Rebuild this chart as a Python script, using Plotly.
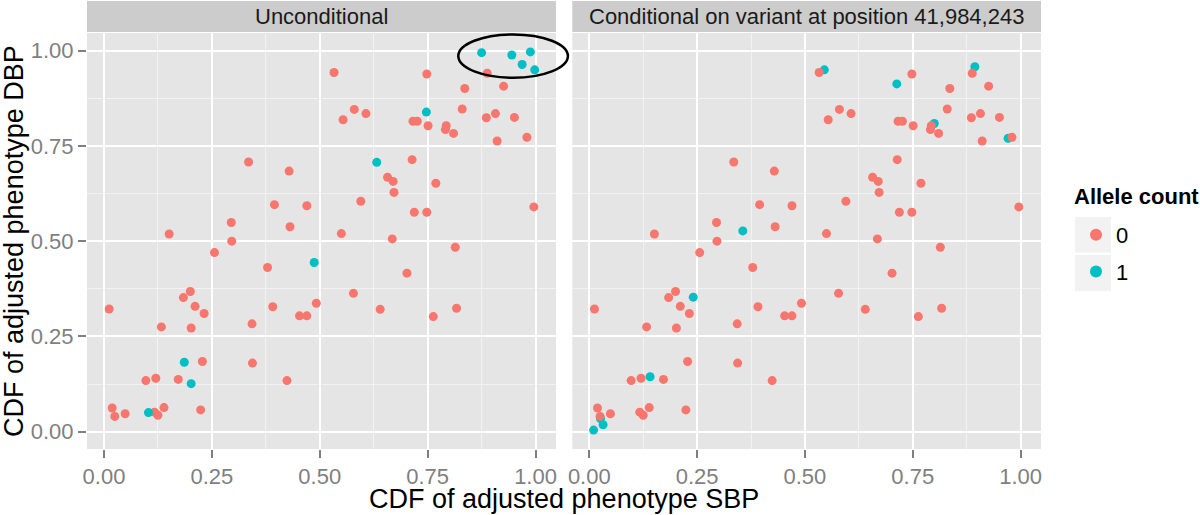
import plotly.graph_objects as go

# ---- data ----
red_x = [0.335, 0.429, 0.395, 0.470, 0.295, 0.431, 0.151, 0.296, 0.256, 0.888,
         0.533, 0.748, 0.926, 0.836, 0.580, 0.607, 0.554, 0.830, 0.907, 0.886,
         0.951, 0.716, 0.726, 0.751, 0.793, 0.791, 0.810, 0.911, 0.980, 0.714,
         0.657, 0.670, 0.769, 0.672, 0.595, 0.719, 0.748, 0.996, 0.550, 0.668,
         0.814, 0.379, 0.492, 0.012, 0.184, 0.200, 0.211, 0.232, 0.391, 0.453,
         0.470, 0.133, 0.202, 0.343, 0.228, 0.344, 0.097, 0.120, 0.172, 0.424,
         0.019, 0.025, 0.049, 0.117, 0.125, 0.139, 0.224, 0.702, 0.578, 0.640,
         0.763, 0.817]
red_y = [0.708, 0.684, 0.596, 0.593, 0.549, 0.538, 0.519, 0.500, 0.470, 0.941,
         0.943, 0.939, 0.907, 0.901, 0.846, 0.835, 0.819, 0.847, 0.835, 0.824,
         0.825, 0.815, 0.815, 0.803, 0.803, 0.793, 0.783, 0.763, 0.773, 0.714,
         0.668, 0.657, 0.652, 0.628, 0.605, 0.576, 0.576, 0.590, 0.520, 0.506,
         0.484, 0.431, 0.337, 0.322, 0.352, 0.368, 0.329, 0.310, 0.328, 0.304,
         0.304, 0.275, 0.272, 0.283, 0.184, 0.180, 0.134, 0.140, 0.137, 0.134,
         0.062, 0.040, 0.047, 0.051, 0.043, 0.063, 0.057, 0.416, 0.363, 0.321,
         0.302, 0.324]

teal_uncond_x = [0.875, 0.945, 0.988, 0.969, 0.998, 0.747, 0.632, 0.487, 0.186, 0.202, 0.103]
teal_uncond_y = [0.995, 0.989, 0.997, 0.964, 0.950, 0.839, 0.707, 0.444, 0.182, 0.126, 0.050]

teal_cond_x = [0.545, 0.713, 0.894, 0.800, 0.971, 0.356, 0.241, 0.141, 0.026, 0.032, 0.010]
teal_cond_y = [0.950, 0.913, 0.958, 0.809, 0.770, 0.527, 0.353, 0.144, 0.034, 0.018, 0.004]

panel_titles = ["Unconditional", "Conditional on variant at position 41,984,243"]
legend_labels = ["0", "1"]
tick_vals = [0.0, 0.25, 0.5, 0.75, 1.0]
minor_vals = [0.125, 0.375, 0.625, 0.875]
x_title = "CDF of adjusted phenotype SBP"
y_title = "CDF of adjusted phenotype DBP"
legend_title = "Allele count"

# highlight ellipse (annotation, data units): centre and half axes
ell_cx, ell_cy, ell_rx, ell_ry = 0.948, 0.986, 0.127, 0.057

RED = "#F8766D"
TEAL = "#00BFC4"
FONT = "Liberation Sans, Arial, Helvetica, sans-serif"

# ---- ranges like ggplot (5% expansion) ----
all_x = red_x + teal_uncond_x + teal_cond_x
all_y = red_y + teal_uncond_y + teal_cond_y
sx = max(all_x) - min(all_x)
sy = max(all_y) - min(all_y)
xr = [min(all_x) - 0.05 * sx, max(all_x) + 0.05 * sx]
yr = [min(all_y) - 0.05 * sy, max(all_y) + 0.05 * sy]

W, H = 1200, 515
ML, MR, MT, MB = 87, 159, 33, 66
PW = W - ML - MR
PH = H - MT - MB
d1_end = (556 - ML) / PW
d2_start = (572.3 - ML) / PW

def px_x(px):
    return (px - ML) / PW

def px_y(py):
    return (H - MB - py) / PH

fig = go.Figure()
msize = 9
fig.add_trace(go.Scatter(x=red_x, y=red_y, mode="markers", name=legend_labels[0],
                         marker=dict(color=RED, size=msize), xaxis="x", yaxis="y",
                         legendgroup="0", showlegend=True))
fig.add_trace(go.Scatter(x=teal_uncond_x, y=teal_uncond_y, mode="markers", name=legend_labels[1],
                         marker=dict(color=TEAL, size=msize), xaxis="x", yaxis="y",
                         legendgroup="1", showlegend=True))
fig.add_trace(go.Scatter(x=teal_cond_x, y=teal_cond_y, mode="markers", name=legend_labels[1],
                         marker=dict(color=TEAL, size=msize), xaxis="x2", yaxis="y2",
                         legendgroup="1", showlegend=False))
fig.add_trace(go.Scatter(x=red_x, y=red_y, mode="markers", name=legend_labels[0],
                         marker=dict(color=RED, size=msize), xaxis="x2", yaxis="y2",
                         legendgroup="0", showlegend=False))

axis_common = dict(
    tickvals=tick_vals, tickformat=".2f", showgrid=True, automargin=False,
    gridcolor="white", gridwidth=2, zeroline=False, showline=False,
    ticks="outside", ticklen=8, tickwidth=2, tickcolor="#7F7F7F",
    tickfont=dict(family=FONT, size=22, color="#7F7F7F"),
    minor=dict(tickvals=minor_vals, showgrid=True, gridcolor="#F2F2F2",
               gridwidth=1.2, ticks=""),
)

xa = dict(axis_common); xa.update(range=xr, domain=[0, d1_end], anchor="y")
xa2 = dict(axis_common); xa2.update(range=xr, domain=[d2_start, 1], anchor="y2")
ya = dict(axis_common); ya.update(range=yr, domain=[0, 1], anchor="x")
ya2 = dict(axis_common); ya2.update(range=yr, domain=[0, 1], anchor="x2",
                                    showticklabels=False, ticks="", matches="y")

shapes = []
annotations = []

# facet strips
for (x0, x1), title in zip([(0, d1_end), (d2_start, 1)], panel_titles):
    shapes.append(dict(type="rect", xref="paper", yref="paper",
                       x0=x0, x1=x1, y0=px_y(32), y1=px_y(1),
                       fillcolor="#CCCCCC", line=dict(width=0), layer="below"))
    annotations.append(dict(text=title, xref="paper", yref="paper",
                            x=(x0 + x1) / 2, y=(px_y(32) + px_y(1)) / 2,
                            xanchor="center", yanchor="middle", showarrow=False,
                            font=dict(family=FONT, size=22, color="#1A1A1A")))

# ellipse (converted to paper so it is not clipped at panel edge)
def dx_to_paper(v):
    return (v - xr[0]) / (xr[1] - xr[0]) * d1_end

def dy_to_paper(v):
    return (v - yr[0]) / (yr[1] - yr[0])

shapes.append(dict(type="circle", xref="paper", yref="paper",
                   x0=dx_to_paper(ell_cx - ell_rx), x1=dx_to_paper(ell_cx + ell_rx),
                   y0=dy_to_paper(ell_cy - ell_ry), y1=dy_to_paper(ell_cy + ell_ry),
                   line=dict(color="black", width=2.5), layer="above"))

# legend key backgrounds
for (t, b) in [(217, 252.5), (255, 291)]:
    shapes.append(dict(type="rect", xref="paper", yref="paper",
                       x0=px_x(1075), x1=px_x(1111), y0=px_y(b), y1=px_y(t),
                       fillcolor="#F2F2F2", line=dict(width=0), layer="below"))

# legend title
annotations.append(dict(text="<b>" + legend_title + "</b>", xref="paper", yref="paper",
                        x=px_x(1072), y=px_y(196), xanchor="left", yanchor="middle",
                        showarrow=False, font=dict(family=FONT, size=22, color="black")))

# axis titles
annotations.append(dict(text=x_title, xref="paper", yref="paper", x=0.5, y=px_y(499),
                        xanchor="center", yanchor="middle", showarrow=False,
                        font=dict(family=FONT, size=27, color="black")))
annotations.append(dict(text=y_title, xref="paper", yref="paper", x=px_x(14), y=0.5,
                        xanchor="center", yanchor="middle", showarrow=False, textangle=-90,
                        font=dict(family=FONT, size=27, color="black")))

fig.update_layout(
    width=W, height=H,
    margin=dict(l=ML, r=MR, t=MT, b=MB, pad=0, autoexpand=False),
    paper_bgcolor="white", plot_bgcolor="#E5E5E5",
    xaxis=xa, yaxis=ya, xaxis2=xa2, yaxis2=ya2,
    shapes=shapes, annotations=annotations,
    showlegend=True,
    legend=dict(x=px_x(1076), y=px_y(214), xanchor="left", yanchor="top",
                xref="paper", yref="paper",
                bgcolor="rgba(0,0,0,0)", borderwidth=0,
                font=dict(family=FONT, size=22, color="black"),
                tracegroupgap=5, itemsizing="constant"),
)

fig.write_html("out.html", config={"displayModeBar": False},
               post_script="document.body.style.margin='0px';document.body.style.padding='0px';")
